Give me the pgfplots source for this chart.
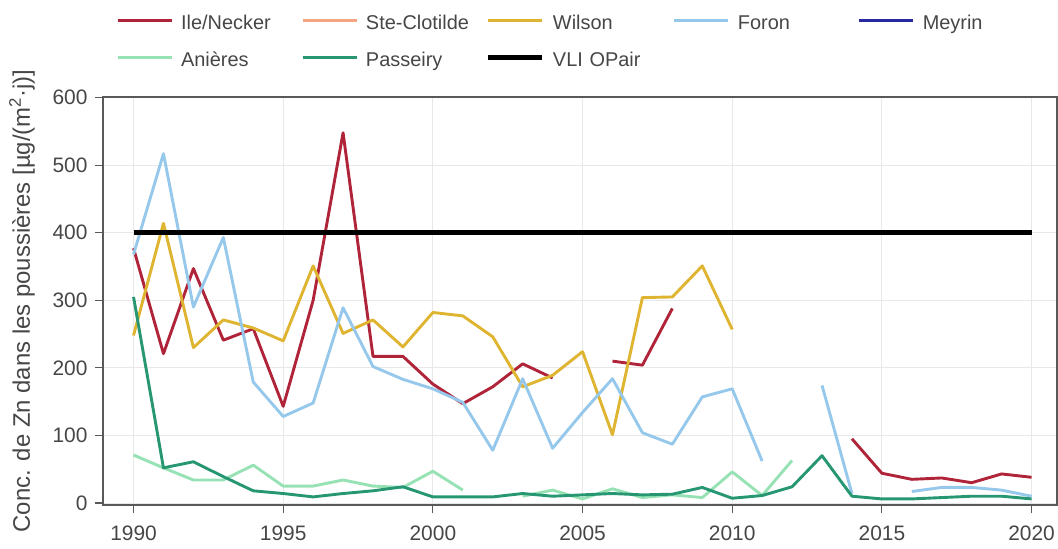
\documentclass[border=0pt]{standalone}
\usepackage{fontspec}
\setmainfont{Liberation Sans}
\usepackage{pgfplots}
\pgfplotsset{compat=1.18}
\definecolor{cile}{RGB}{176,36,58}
\definecolor{cste}{RGB}{244,165,130}
\definecolor{cwil}{RGB}{222,180,48}
\definecolor{cfor}{RGB}{150,200,235}
\definecolor{cmey}{RGB}{40,40,160}
\definecolor{cani}{RGB}{150,226,180}
\definecolor{cpas}{RGB}{38,150,115}
\definecolor{txtgray}{RGB}{70,70,70}
\begin{document}
\begin{tikzpicture}
\begin{axis}[
  scale only axis,
  width=954bp, height=408bp,
  xmin=1988.98, xmax=2020.85,
  ymin=-3, ymax=601,
  xtick={1990,1995,2000,2005,2010,2015,2020},
  ytick={0,100,200,300,400,500,600},
  /pgf/number format/1000 sep={},
  /pgf/number format/assume math mode=true,
  tick label style={font=\fontsize{21}{25}\selectfont, text=txtgray},
  xticklabel style={yshift=-9bp},
  yticklabel style={xshift=-4bp},
  xtick pos=bottom, ytick pos=left,
  tick align=outside,
  major tick length=8bp,
  tick style={draw=black!65, line width=1.2bp},
  axis line style={draw=black!65, line width=1.3bp},
  grid=major,
  major grid style={draw=black!9, line width=0.9bp},
  unbounded coords=jump,
  every axis y label/.style={at={(axis description cs:-0.085,0.5)}, anchor=center, rotate=90},
  ylabel style={font=\fontsize{24}{28}\selectfont, text=txtgray},
  ylabel={Conc. de Zn dans les poussières [µg/(m\textsuperscript{2}·j)]},
  legend columns=5,
  legend image code/.code={\draw[#1] (0bp,0bp) -- (54bp,0bp);},
  legend style={draw=none, fill=none,
    at={(rel axis cs:0,1)}, anchor=south west, xshift=10bp, yshift=28bp,
    font=\fontsize{20}{24}\selectfont,
    row sep=18bp,
    nodes={inner sep=0pt, text height=19bp, text depth=0bp, text width=114bp, align=left, text=txtgray},
    /tikz/every odd column/.append style={column sep=8bp},
    /tikz/every even column/.append style={column sep=6bp},
  },
  legend cell align=left,
]
\addplot[cile, line width=2.9bp, line join=round] coordinates {
(1990,377) (1991,221) (1992,347) (1993,241) (1994,258) (1995,143) (1996,300)
(1997,548) (1998,217) (1999,217) (2000,176) (2001,147) (2002,172) (2003,206)
(2004,185) (2005,nan) (2006,210) (2007,204) (2008,288) (2009,nan) (2013,nan)
(2014,95) (2015,44) (2016,35) (2017,37) (2018,30) (2019,43) (2020,38)};
\addlegendentry{Ile/Necker}
\addlegendimage{cste, line width=2.9bp}
\addlegendentry{Ste-Clotilde}
\addplot[cwil, line width=2.9bp, line join=round] coordinates {
(1990,248) (1991,414) (1992,230) (1993,271) (1994,259) (1995,240) (1996,351)
(1997,251) (1998,271) (1999,231) (2000,282) (2001,277) (2002,246) (2003,172)
(2004,189) (2005,224) (2006,101) (2007,304) (2008,305) (2009,351) (2010,257)};
\addlegendentry{Wilson}
\addplot[cfor, line width=2.9bp, line join=round] coordinates {
(1990,368) (1991,517) (1992,290) (1993,393) (1994,179) (1995,128) (1996,148)
(1997,289) (1998,202) (1999,183) (2000,169) (2001,149) (2002,78) (2003,184)
(2004,81) (2005,134) (2006,184) (2007,104) (2008,87) (2009,157) (2010,169)
(2011,62) (2012,nan) (2013,174) (2014,14) (2015,nan) (2016,17) (2017,23)
(2018,23) (2019,19) (2020,10)};
\addlegendentry{Foron}
\addlegendimage{cmey, line width=2.9bp}
\addlegendentry{Meyrin}
\addplot[cani, line width=2.9bp, line join=round] coordinates {
(1990,71) (1991,52) (1992,34) (1993,34) (1994,56) (1995,25) (1996,25)
(1997,34) (1998,25) (1999,23) (2000,47) (2001,19) (2002,nan) (2003,10)
(2004,19) (2005,6) (2006,21) (2007,8) (2008,12) (2009,8) (2010,46)
(2011,11) (2012,63)};
\addlegendentry{Anières}
\addplot[cpas, line width=2.9bp, line join=round] coordinates {
(1990,305) (1991,52) (1992,61) (1993,39) (1994,18) (1995,14) (1996,9)
(1997,14) (1998,18) (1999,24) (2000,9) (2001,9) (2002,9) (2003,14)
(2004,10) (2005,12) (2006,14) (2007,12) (2008,13) (2009,23) (2010,7)
(2011,11) (2012,24) (2013,70) (2014,10) (2015,6) (2016,6) (2017,8)
(2018,10) (2019,10) (2020,6)};
\addlegendentry{Passeiry}
\addplot[black, line width=5bp] coordinates {(1990,400) (2020,400)};
\addlegendentry{VLI OPair}
\end{axis}
\pgfresetboundingbox
\useasboundingbox (-103bp,-44bp) rectangle (955bp,505bp);
\end{tikzpicture}
\end{document}
